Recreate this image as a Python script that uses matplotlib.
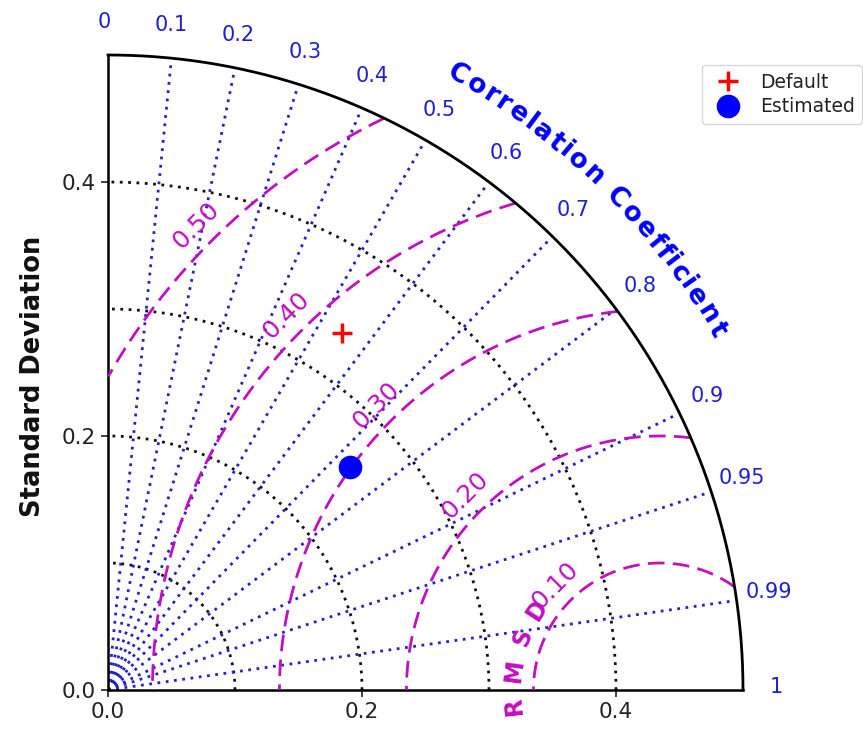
import numpy as np
import matplotlib
matplotlib.use('Agg')
import matplotlib.pyplot as plt
from matplotlib.textpath import TextToPath
from matplotlib.font_manager import FontProperties

# ---------------- data ----------------
ref_std = 0.435
std_max = 0.5
model_names = ['Default', 'Estimated']
model_std = [0.336, 0.259]
model_corr = [0.548, 0.736]
model_markers = ['+', 'o']
model_colors = ['red', 'blue']

corr_ticks = [0.1, 0.2, 0.3, 0.4, 0.5, 0.6, 0.7, 0.8, 0.9, 0.95, 0.99]
corr_label_vals = [0, 0.1, 0.2, 0.3, 0.4, 0.5, 0.6, 0.7, 0.8, 0.9, 0.95, 0.99, 1]
corr_labels = ['0', '0.1', '0.2', '0.3', '0.4', '0.5', '0.6', '0.7', '0.8', '0.9',
               '0.95', '0.99', '1']
std_grid = [0.1, 0.2, 0.3, 0.4]
std_ticks = [0.0, 0.2, 0.4]
std_ticklabels = ['0.0', '0.2', '0.4']
rms_ticks = [0.1, 0.2, 0.3, 0.4, 0.5]
rms_labels = ['0.10', '0.20', '0.30', '0.40', '0.50']

# ---------------- figure ----------------
W, H = 863, 729
fig = plt.figure(figsize=(W / 100, H / 100), dpi=100)
ax = fig.add_axes([108 / W, 39 / H, 635 / W, 635 / H])
ax.set_xlim(0, std_max)
ax.set_ylim(0, std_max)
ax.set_aspect('equal')
for s in ['top', 'right']:
    ax.spines[s].set_visible(False)
for s in ['left', 'bottom']:
    ax.spines[s].set_linewidth(1.8)
ax.set_xticks(std_ticks)
ax.set_xticklabels(std_ticklabels)
ax.set_yticks(std_ticks)
ax.set_yticklabels(std_ticklabels)
ax.tick_params(labelsize=15.5, width=1.2, length=5, colors='#222222')

dot = (0, (1, 2))

# std grid arcs (black dotted)
th = np.linspace(0, np.pi / 2, 400)
for r in std_grid:
    ax.plot(r * np.cos(th), r * np.sin(th), linestyle=dot, color='#111111', lw=2,
            zorder=2)

# outer arc
ax.plot(std_max * np.cos(th), std_max * np.sin(th), '-', color='black', lw=2,
        clip_on=False, zorder=4)

# correlation lines (blue dotted)
for c in corr_ticks:
    a = np.arccos(c)
    ax.plot([0, 0.495 * np.cos(a)], [0, 0.495 * np.sin(a)], linestyle=dot,
            color='#2222cc', lw=2, zorder=2)

# correlation labels
for c, lab in zip(corr_label_vals, corr_labels):
    a = np.arccos(c) + np.deg2rad(0.3)
    ax.text(0.526 * np.cos(a), 0.526 * np.sin(a), lab, color='#2020d0', fontsize=15,
            ha='center', va='center', clip_on=False)

# RMS arcs (magenta dashed)
phi = np.linspace(0, np.pi, 3000)
for r in rms_ticks:
    X = ref_std + r * np.cos(phi)
    Y = r * np.sin(phi)
    m = (np.hypot(X, Y) <= std_max) & (X >= 0)
    ax.plot(X[m], Y[m], '--', color='#c010c0', lw=2, dashes=(6, 3), zorder=3)

# RMS labels
for r, lab in zip(rms_ticks, rms_labels):
    a = np.deg2rad(135)
    d = r + 0.017
    ax.text(ref_std + d * np.cos(a), d * np.sin(a), lab, color='#c010c0', fontsize=18,
            rotation=45, rotation_mode='anchor', ha='center', va='center', zorder=5)

# curved text helper
ttp = TextToPath()


def char_centers(text, prop):
    cs = []
    for i, ch in enumerate(text):
        if ch == ' ':
            cs.append(None)
            continue
        wfull = ttp.get_text_width_height_descent(text[:i + 1], prop, ismath=False)[0]
        wch = ttp.get_text_width_height_descent(ch, prop, ismath=False)[0]
        cs.append(wfull - wch / 2)
    return cs


def curved_text(text, cx, cy, radius, a0, a1, size, color):
    prop = FontProperties(family='DejaVu Sans', weight='bold', size=size)
    cs = char_centers(text, prop)
    valid = [c for c in cs if c is not None]
    c0, c1 = valid[0], valid[-1]
    for ch, c in zip(text, cs):
        if c is None:
            continue
        ang = a0 + (c - c0) / (c1 - c0) * (a1 - a0)
        ar = np.deg2rad(ang)
        ax.text(cx + radius * np.cos(ar), cy + radius * np.sin(ar), ch, color=color,
                fontsize=size, fontweight='bold', rotation=ang - 90,
                rotation_mode='anchor', ha='center', va='center', clip_on=False)


curved_text('Correlation Coefficient', 0.0, 0.0, 0.557, 60.4, 30.6, 19, 'blue')
curved_text('RMSD', ref_std, 0.0, 0.116, 186, 147, 17, '#c010c0')

# y label
fig.text(33 / W, 1 - 376 / H, 'Standard Deviation', rotation=90, fontsize=18.5,
         fontweight='bold', ha='center', va='center', color='#111111')

# model points
for name, s, c, mk, col in zip(model_names, model_std, model_corr, model_markers,
                               model_colors):
    x = s * c
    y = s * np.sqrt(1 - c ** 2)
    if mk == '+':
        ax.plot(x, y, mk, color=col, ms=14, mew=2.5, label=name, zorder=6,
                linestyle='none')
    else:
        ax.plot(x, y, mk, color=col, ms=16, label=name, zorder=6, linestyle='none')

leg = ax.legend(loc='upper right', bbox_to_anchor=(862 / W, 1 - 65 / H),
                bbox_transform=fig.transFigure, fontsize=13.5, borderaxespad=0,
                numpoints=1, handletextpad=0.7, labelspacing=0.3)
for t in leg.get_texts():
    t.set_color('#222222')

fig.savefig('out.png', dpi=100)
